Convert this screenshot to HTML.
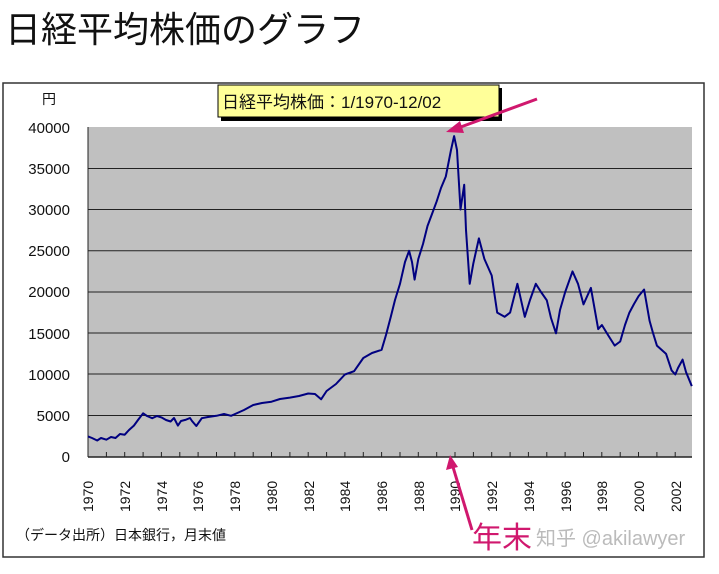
<!DOCTYPE html>
<html><head><meta charset="utf-8"><style>
body{margin:0;background:#fff;width:719px;height:569px;overflow:hidden;font-family:"Liberation Sans","Noto Sans CJK JP",sans-serif}
</style></head><body>
<svg width="719" height="569" xmlns="http://www.w3.org/2000/svg" font-family="Liberation Sans, Noto Sans CJK JP, sans-serif">
<text x="5" y="42" font-size="36" fill="#111">日経平均株価のグラフ</text>
<rect x="3" y="83" width="701" height="474" fill="#fff" stroke="#333" stroke-width="1.5"/>
<rect x="88" y="127" width="604" height="330" fill="#c0c0c0"/>
<g stroke="#222" stroke-width="1">
<line x1="88" x2="692" y1="168.5" y2="168.5"/><line x1="88" x2="692" y1="209.5" y2="209.5"/>
<line x1="88" x2="692" y1="250.7" y2="250.7"/><line x1="88" x2="692" y1="292" y2="292"/>
<line x1="88" x2="692" y1="333" y2="333"/><line x1="88" x2="692" y1="374" y2="374"/>
<line x1="88" x2="692" y1="415.5" y2="415.5"/>
<line x1="88" x2="692" y1="457" y2="457" stroke-width="1.5"/>
<line x1="88" x2="88" y1="127" y2="457"/>
</g>
<g stroke="#222" stroke-width="1">
<path d="M88 452v5M106.4 452v5M124.7 452v5M143.1 452v5M161.4 452v5M179.8 452v5M198.1 452v5M216.5 452v5M234.8 452v5M253.2 452v5M271.5 452v5M289.9 452v5M308.2 452v5M326.6 452v5M344.9 452v5M363.3 452v5M381.6 452v5M400 452v5M418.3 452v5M436.7 452v5M455 452v5M473.4 452v5M491.7 452v5M510.1 452v5M528.4 452v5M546.8 452v5M565.1 452v5M583.5 452v5M601.8 452v5M620.2 452v5M638.5 452v5M656.9 452v5M675.2 452v5"/>
</g>
<g font-size="15" fill="#111" text-anchor="end">
<text x="70" y="133">40000</text><text x="70" y="174">35000</text><text x="70" y="215">30000</text>
<text x="70" y="256">25000</text><text x="70" y="297">20000</text><text x="70" y="339">15000</text>
<text x="70" y="380">10000</text><text x="70" y="421">5000</text><text x="70" y="462">0</text>
</g>
<text x="42" y="104" font-size="14" fill="#111">円</text>
<g font-size="14" fill="#111">
<text transform="translate(93,512) rotate(-90)">1970</text>
<text transform="translate(130,512) rotate(-90)">1972</text>
<text transform="translate(167,512) rotate(-90)">1974</text>
<text transform="translate(203,512) rotate(-90)">1976</text>
<text transform="translate(240,512) rotate(-90)">1978</text>
<text transform="translate(277,512) rotate(-90)">1980</text>
<text transform="translate(314,512) rotate(-90)">1982</text>
<text transform="translate(350,512) rotate(-90)">1984</text>
<text transform="translate(387,512) rotate(-90)">1986</text>
<text transform="translate(424,512) rotate(-90)">1988</text>
<text transform="translate(460,512) rotate(-90)">1990</text>
<text transform="translate(497,512) rotate(-90)">1992</text>
<text transform="translate(534,512) rotate(-90)">1994</text>
<text transform="translate(571,512) rotate(-90)">1996</text>
<text transform="translate(607,512) rotate(-90)">1998</text>
<text transform="translate(644,512) rotate(-90)">2000</text>
<text transform="translate(681,512) rotate(-90)">2002</text>
</g>
<polyline fill="none" stroke="#000080" stroke-width="2" stroke-linejoin="round" points="88,436.4 92,438 97.2,440.5 101,438 106.4,439.7 111,437 115.5,438 120,434 124.7,434.7 129,430 133.9,425.6 138,420 143.1,413.3 147,416 152.2,418.2 157,416 161.4,417.4 166,420 170.6,421.5 174,418 177.9,425.6 181,421 185.3,419.9 190,418 192,421 196.3,426 201.8,418.2 208,417 216.5,415.8 224,414 231.1,415.8 234.8,414.1 244,410 253.2,405 262,403 271.5,401.7 280,399 289.9,397.6 299,396 308.2,393.5 315,394 321.1,399.3 326.6,391 336,384 344.9,374.5 354.1,371.2 363.3,358 372,353 381.6,349.8 386,335 390.8,316.8 395,300 400,283.8 405,262 409.1,250.8 412,262 414.6,279.6 418.3,259 423,244 427.5,226 432,214 436.7,201.3 441,188 445.8,176.5 451,150 454.1,136.1 457,150 460.5,209.5 464.2,184.8 466,230 469.7,283.8 473.4,263.1 478.9,238.4 484.4,259 491.7,275.5 497.2,312.6 504.6,316.8 510.1,312.6 517.4,283.8 524.8,316.8 530,300 535.8,283.8 541,292 546.8,300.3 551,318 556,333.3 560,310 565.2,292 572.5,271.4 578,283.8 583.5,304.4 590.9,287.9 598.2,329.1 601.9,325 608,335 614.7,345.6 620.2,341.5 625,325 629.4,312.6 634,304 638.6,296.1 644.1,289.5 649.6,320.9 653,333 656.9,345.6 666.1,353.9 671.6,370.4 675.3,374.5 678,368 682.6,359.6 686,372 691.8,386.1"/>
<rect x="221" y="88" width="281" height="33" fill="#000"/>
<rect x="218" y="85" width="281" height="32" fill="#ffff99" stroke="#000"/>
<text x="222" y="108" font-size="17" fill="#111">日経平均株価：1/1970-12/02</text>
<g stroke="#d0186e" stroke-width="3" fill="#d0186e">
<line x1="537" y1="99" x2="458" y2="128"/>
<polygon points="446,132 460,121 464,133" stroke="none"/>
<line x1="472" y1="530" x2="453" y2="467"/>
<polygon points="450,455 446,470 458,467" stroke="none"/>
</g>
<text x="472" y="548" font-size="30" fill="#d0186e">年末</text>
<text x="536" y="545" font-size="20" fill="#bbb">知乎 @akilawyer</text>
<text x="16" y="540" font-size="14" fill="#111">（データ出所）日本銀行，月末値</text>
</svg>
</body></html>
